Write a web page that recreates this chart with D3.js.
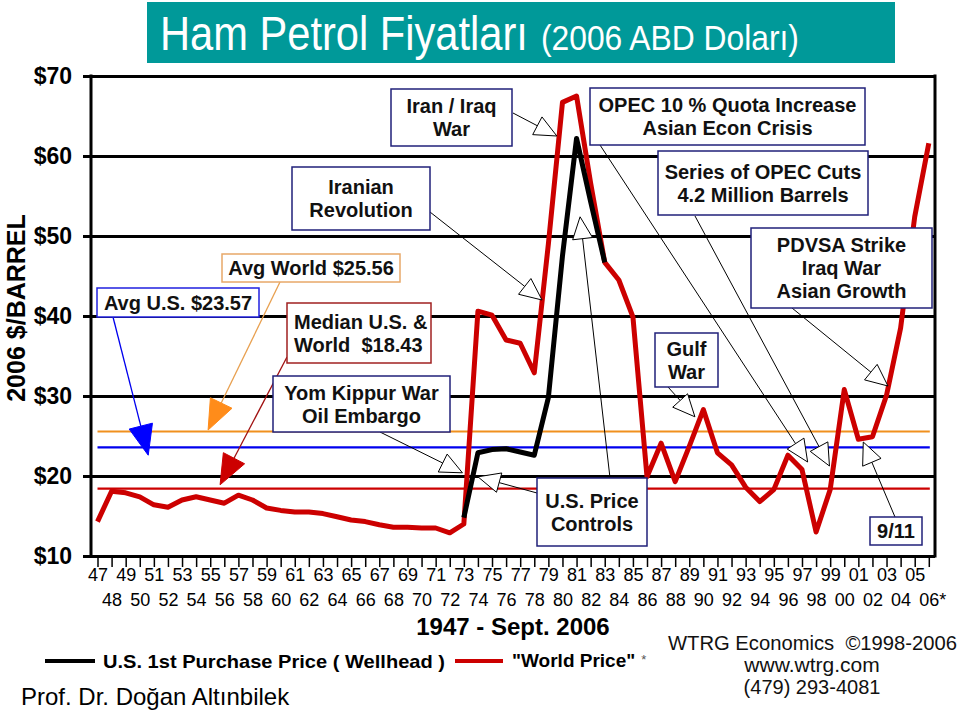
<!DOCTYPE html>
<html><head><meta charset="utf-8">
<script src="https://cdn.jsdelivr.net/npm/d3@7"></script>
<style>body{margin:0;background:#fff;}svg{display:block;font-family:Arial,"Liberation Sans",sans-serif;}</style>
</head><body>
<svg id="c" width="960" height="715"></svg>
<script>
// ---- data ----
const years = [1947,1948,1949,1950,1951,1952,1953,1954,1955,1956,1957,1958,1959,1960,1961,1962,1963,1964,1965,1966,1967,1968,1969,1970,1971,1972,1973,1974,1975,1976,1977,1978,1979,1980,1981,1982,1983,1984,1985,1986,1987,1988,1989,1990,1991,1992,1993,1994,1995,1996,1997,1998,1999,2000,2001,2002,2003,2004,2005,2006];
const worldPrice = [14.3,18.1,17.9,17.4,16.4,16.1,17.0,17.4,17.0,16.6,17.6,17.0,16.0,15.7,15.5,15.5,15.3,14.9,14.5,14.3,13.9,13.6,13.6,13.5,13.5,12.9,14.0,40.6,40.1,37.0,36.6,32.9,49.0,66.7,67.5,56.6,46.7,44.5,39.9,19.9,24.1,19.3,23.7,28.3,22.9,21.4,18.6,16.8,18.3,22.6,20.8,13.0,18.3,30.8,24.6,24.9,30.1,38.5,52.4,61.6];
const usYears = [1973,1974,1975,1976,1977,1978,1979,1980,1981,1982,1983];
const usPrice = [14.8,22.9,23.3,23.4,23.0,22.6,29.8,47.5,62.2,54.3,46.7];
const yTicks = [10,20,30,40,50,60,70];
const yTickLabels = ["$10","$20","$30","$40","$50","$60","$70"];
const xTickLabels = ["47","48","49","50","51","52","53","54","55","56","57","58","59","60","61","62","63","64","65","66","67","68","69","70","71","72","73","74","75","76","77","78","79","80","81","82","83","84","85","86","87","88","89","90","91","92","93","94","95","96","97","98","99","00","01","02","03","04","05","06*"];
const avgWorld = 25.56, avgUS = 23.57, medianPrice = 18.43;
const refYears = [1947, 2006];

// ---- scales ----
const svg = d3.select("#c");
const x = d3.scaleLinear().domain([1947,2006]).range([97.5,928.8]);
const y = d3.scaleLinear().domain([10,70]).range([556,76]);
const plotL = 91, plotR = 935;

function fitText(sel, x0, y0, targetW){
  const w = sel.node().getComputedTextLength();
  const s = targetW / w;
  sel.attr("x",0).attr("y",0).attr("transform",`translate(${x0},${y0}) scale(${s},1)`);
}

// title
svg.append("rect").attr("x",147).attr("y",2).attr("width",748).attr("height",61).attr("fill","#009999");
const t1 = svg.append("text").attr("fill","#fff").attr("font-size",48).text("Ham Petrol Fiyatları");
fitText(t1,160,50,368);
const t2 = svg.append("text").attr("fill","#fff").attr("font-size",35).text("(2006 ABD Doları)");
fitText(t2,541,50,258);

// y axis with gridlines
const yAxis = d3.axisLeft(y).tickValues(yTicks).tickSize(-(plotR-83)).tickPadding(11)
  .tickFormat((d,i)=>yTickLabels[i]);
const gy = svg.append("g").attr("transform","translate(83,0)").call(yAxis);
gy.select(".domain").remove();
gy.selectAll(".tick line").attr("stroke","#000").attr("stroke-width",3);
gy.selectAll(".tick text").attr("font-size",23).attr("font-weight","bold").attr("fill","#000")
  .attr("font-family","Arial,'Liberation Sans',sans-serif");

// frame
svg.append("line").attr("x1",plotL).attr("x2",plotL).attr("y1",y(70)-1.5).attr("y2",y(10)+1.5).attr("stroke","#000").attr("stroke-width",3);
svg.append("line").attr("x1",plotR).attr("x2",plotR).attr("y1",y(70)-1.5).attr("y2",y(10)+1.5).attr("stroke","#000").attr("stroke-width",3);

// x axis
const xAxis = d3.axisBottom(x).tickValues(years).tickSize(10).tickPadding(3).tickFormat((d,i)=>xTickLabels[i]);
const gx = svg.append("g").attr("transform",`translate(0,${y(10)+1})`).call(xAxis);
gx.select(".domain").remove();
gx.selectAll(".tick line").attr("stroke","#000").attr("stroke-width",1.5);
gx.selectAll(".tick text").attr("font-size",18).attr("fill","#000")
  .attr("font-family","Arial,'Liberation Sans',sans-serif")
  .attr("dy",null).attr("y",(d,i)=> i%2===0 ? 24 : 49)
  .style("dominant-baseline","auto");
gx.selectAll(".tick text").filter((d,i)=>i===years.length-1).attr("text-anchor","start").attr("dx",-10);

// y axis title
svg.append("text").attr("transform","translate(25,308) rotate(-90)").attr("text-anchor","middle")
  .attr("font-size",25).attr("font-weight","bold").text("2006 $/BARREL");

// x axis title
svg.append("text").attr("x",513).attr("y",635).attr("text-anchor","middle").attr("font-size",24)
  .attr("font-weight","bold").text("1947 - Sept. 2006");

// reference lines
const refs = [[avgWorld,"#f0901e"],[avgUS,"#0000ee"],[medianPrice,"#cc0000"]];
refs.forEach(([v,c])=>{
  svg.append("line").attr("x1",x(refYears[0])).attr("x2",x(refYears[1])+1).attr("y1",y(v)).attr("y2",y(v))
    .attr("stroke",c).attr("stroke-width",2.2);
});

// data lines
const line = d3.line().x(d=>x(d[0])).y(d=>y(d[1]));
svg.append("path").datum(years.map((d,i)=>[d,worldPrice[i]])).attr("d",line).attr("fill","none")
  .attr("stroke","#cc0000").attr("stroke-width",5).attr("stroke-linejoin","round");
svg.append("path").datum(usYears.map((d,i)=>[d,usPrice[i]])).attr("d",line).attr("fill","none")
  .attr("stroke","#000").attr("stroke-width",5).attr("stroke-linejoin","round");

// annotations
const navy = "#20207a";
const boxes = [
  {x:391,y:89,w:121,h:57,lines:["Iran / Iraq","War"],c:navy},
  {x:590,y:88,w:275,h:57,lines:["OPEC 10 % Quota Increase","Asian Econ Crisis"],c:navy},
  {x:658,y:151,w:210,h:64,lines:["Series of OPEC Cuts","4.2 Million Barrels"],c:navy},
  {x:751,y:228,w:181,h:80,lines:["PDVSA Strike","Iraq War","Asian Growth"],c:navy},
  {x:292,y:167,w:138,h:63,lines:["Iranian","Revolution"],c:navy},
  {x:222,y:254,w:178,h:28,lines:["Avg World $25.56"],c:"#e8a868"},
  {x:97,y:288,w:162,h:29,lines:["Avg U.S. $23.57"],c:"#2020e0"},
  {x:287,y:303,w:144,h:60,lines:["Median U.S. &","World  $18.43"],c:"#a02020",left:true},
  {x:273,y:376,w:177,h:56,lines:["Yom Kippur War","Oil Embargo"],c:navy},
  {x:537,y:478,w:110,h:68,lines:["U.S. Price","Controls"],c:navy},
  {x:655,y:333,w:63,h:54,lines:["Gulf","War"],c:navy},
  {x:870,y:517,w:52,h:28,lines:["9/11"],c:navy}
];

// arrows: start (pixel on box edge) -> tip at (year,value)
const arrows = [
  {sx:513,sy:113,ty:1979.6,tv:62.5},
  {sx:430,sy:212,ty:1978.55,tv:42.0},
  {sx:600,sy:145,ty:1997.4,tv:21.75},
  {sx:695,sy:216,ty:1998.95,tv:21.25},
  {sx:792,sy:308,ty:2003.1,tv:31.25},
  {sx:668,sy:387,ty:1989.4,tv:27.4},
  {sx:895,sy:517,ty:2001.35,tv:24.25},
  {sx:610,sy:478,ty:1981.25,tv:52.4},
  {sx:537,sy:493,ty:1974.0,tv:19.9},
  {sx:380,sy:432,ty:1972.9,tv:20.4},
  {sx:280,sy:282,ty:1954.85,tv:25.75,fill:"#ff8c1a",lc:"#e8a050",len:30,hw:12},
  {sx:113,sy:317,ty:1950.6,tv:22.6,fill:"#0000ff",lc:"#0000ee",len:30,hw:12},
  {sx:287,sy:357,ty:1955.7,tv:18.9,fill:"#cc0000",lc:"#a01010",len:30,hw:12}
];

function drawArrow(a){
  const tx = x(a.ty), ty = y(a.tv);
  const dx = tx-a.sx, dy = ty-a.sy, L = Math.hypot(dx,dy);
  const ux = dx/L, uy = dy/L;
  const len = a.len||22, hw = a.hw||10;
  const bx = tx-ux*len, by = ty-uy*len;
  const px = -uy, py = ux;
  svg.append("line").attr("x1",a.sx).attr("y1",a.sy).attr("x2",bx).attr("y2",by)
    .attr("stroke",a.lc||"#000").attr("stroke-width",a.fill?1.3:1);
  svg.append("path").attr("d",`M${tx},${ty}L${bx+px*hw},${by+py*hw}L${bx-px*hw},${by-py*hw}Z`)
    .attr("fill",a.fill||"#fff").attr("stroke",a.fill||"#000").attr("stroke-width",1);
}
arrows.forEach(drawArrow);

boxes.forEach(b=>{
  svg.append("rect").attr("x",b.x).attr("y",b.y).attr("width",b.w).attr("height",b.h)
    .attr("fill","#fff").attr("stroke",b.c).attr("stroke-width",1.5);
  const lh = 23, n = b.lines.length;
  const cy = b.y + b.h/2;
  b.lines.forEach((t,i)=>{
    svg.append("text").attr("x", b.left ? b.x+7 : b.x+b.w/2)
      .attr("y", cy + (i-(n-1)/2)*lh + 7)
      .attr("text-anchor", b.left ? "start" : "middle")
      .attr("font-size",20).attr("font-weight","bold").attr("fill","#111")
      .style("white-space","pre").text(t);
  });
});

// legend
svg.append("line").attr("x1",45).attr("x2",95).attr("y1",661).attr("y2",661).attr("stroke","#000").attr("stroke-width",4);
svg.append("text").attr("x",103).attr("y",668).attr("font-size",19).attr("font-weight","bold")
  .attr("textLength",342).attr("lengthAdjust","spacingAndGlyphs").text("U.S. 1st Purchase Price ( Wellhead )");
svg.append("line").attr("x1",455).attr("x2",503).attr("y1",661).attr("y2",661).attr("stroke","#cc0000").attr("stroke-width",4);
const wp = svg.append("text").attr("x",512).attr("y",667).attr("font-size",19).attr("font-weight","bold");
wp.append("tspan").text("\"World Price\"");
wp.append("tspan").attr("dx",6).attr("font-size",13).attr("font-weight","normal").attr("fill","#555").attr("dy",-3).text("*");

// source
svg.append("text").attr("x",668).attr("y",650).attr("font-size",20).attr("fill","#111")
  .attr("textLength",289).attr("lengthAdjust","spacingAndGlyphs").style("white-space","pre").text("WTRG Economics  ©1998-2006");
svg.append("text").attr("x",812).attr("y",672).attr("text-anchor","middle").attr("font-size",21).attr("fill","#111").text("www.wtrg.com");
svg.append("text").attr("x",812).attr("y",694).attr("text-anchor","middle").attr("font-size",20).attr("fill","#111").text("(479) 293-4081");

// author
svg.append("text").attr("x",21).attr("y",705).attr("font-size",24).attr("fill","#000").text("Prof. Dr. Doğan Altınbilek");
</script>
</body></html>
